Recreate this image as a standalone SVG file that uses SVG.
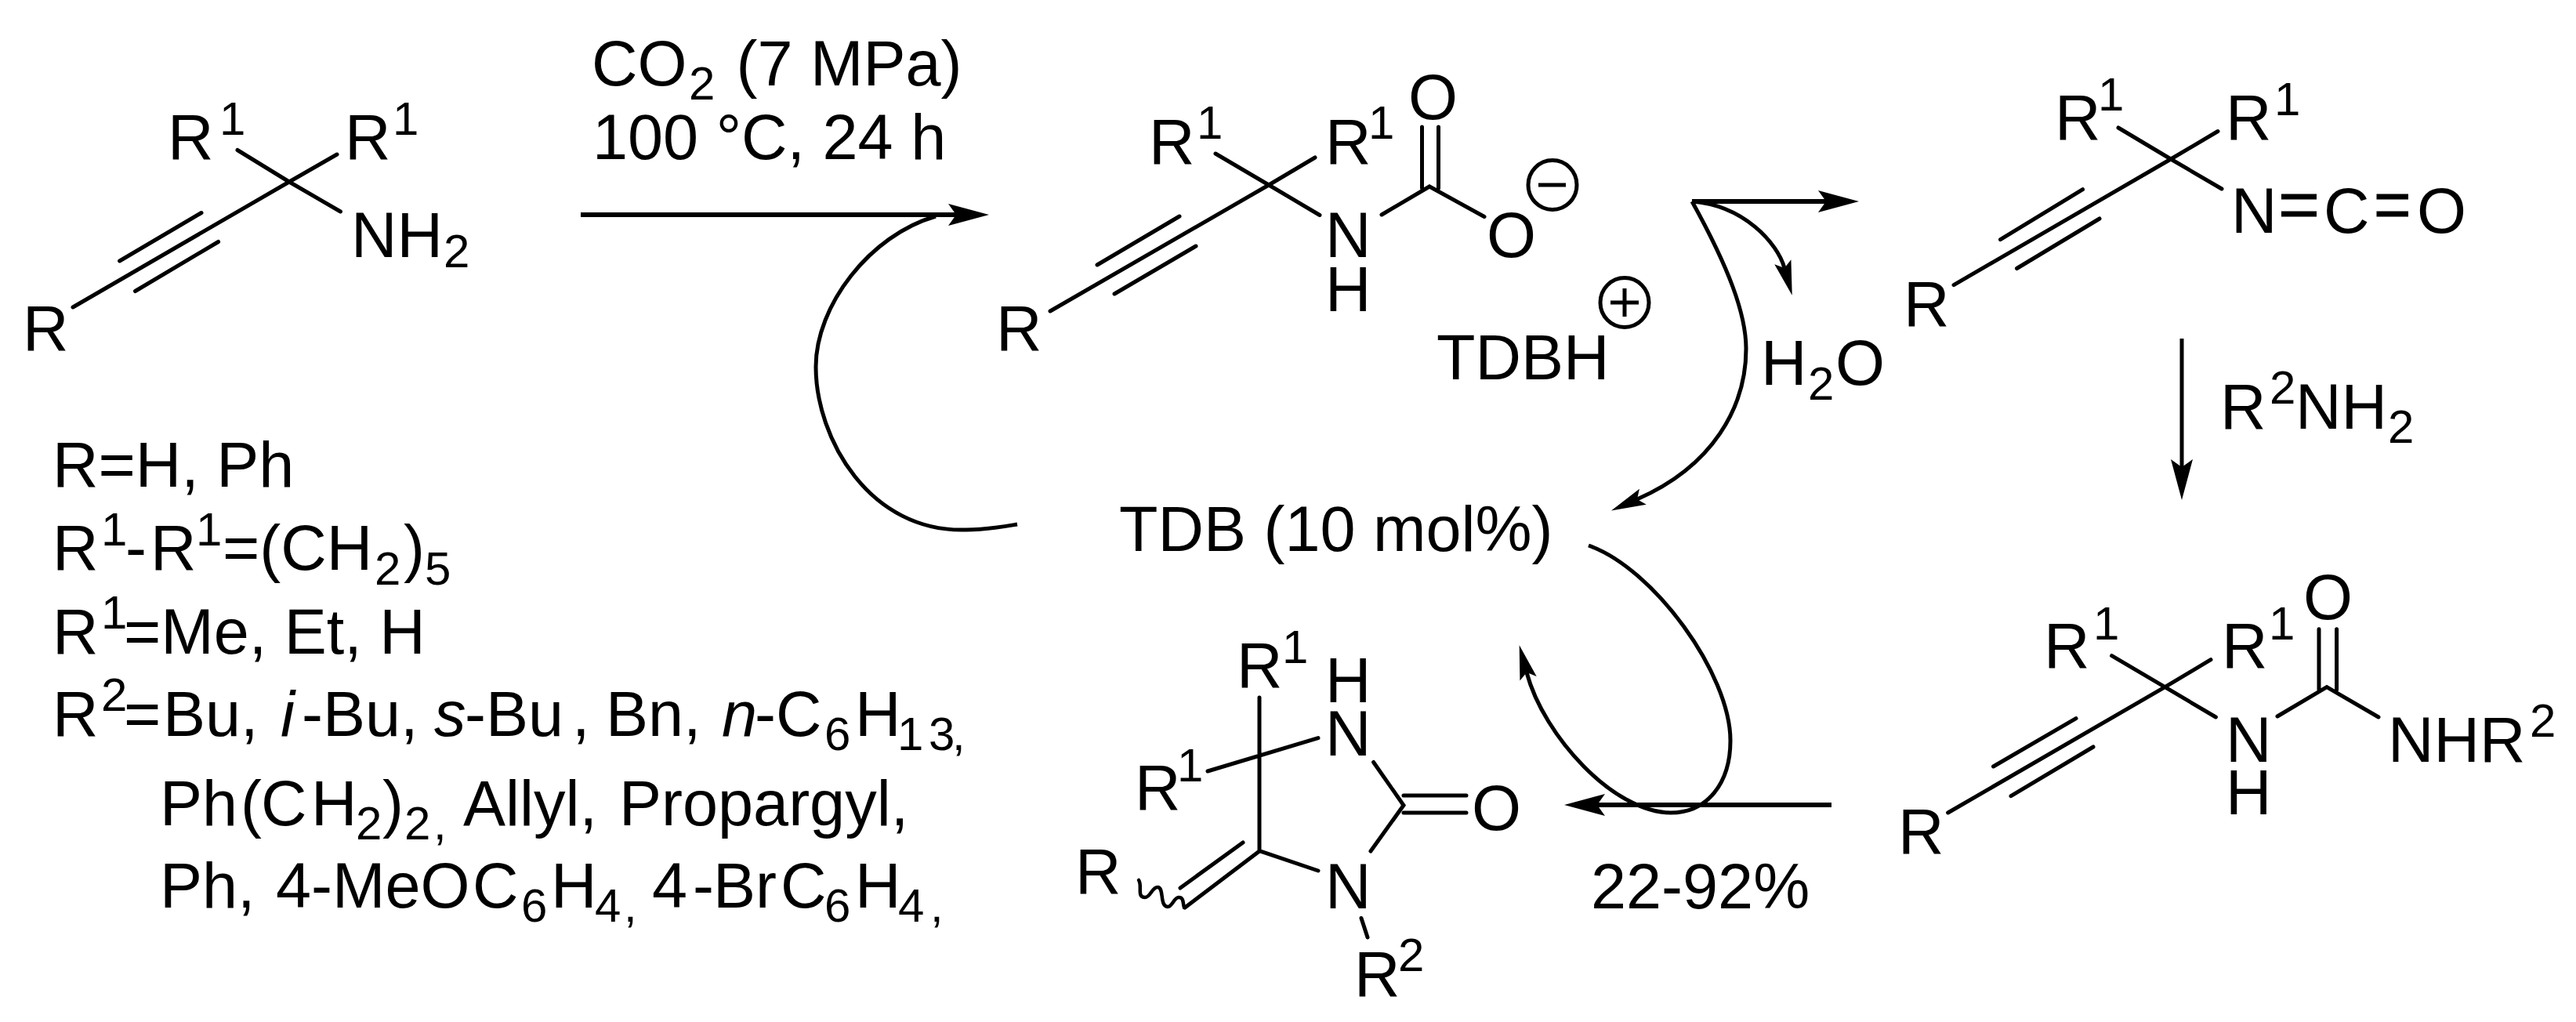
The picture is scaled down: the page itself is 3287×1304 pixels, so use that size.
<svg xmlns="http://www.w3.org/2000/svg" width="3287" height="1304" viewBox="0 0 3287 1304">
<style>
text{font-family:"Liberation Sans",Arial,sans-serif;font-size:81px;fill:#000}
.s{font-size:60px}
.i{font-style:italic}
.b{stroke:#000;stroke-width:5;stroke-linecap:round;fill:none}
.c{stroke:#000;stroke-width:5;fill:none}
.a{stroke:#000;stroke-width:6;fill:none}
</style>
<defs>
<marker id="big" markerUnits="userSpaceOnUse" markerWidth="60" markerHeight="32" refX="10" refY="16" orient="auto"><path d="M0,2 L52,16 L0,30 L10,16 Z" fill="#000"/></marker>
<marker id="small" markerUnits="userSpaceOnUse" markerWidth="50" markerHeight="26" refX="8" refY="13" orient="auto"><path d="M0,2 L44,13 L0,24 L8,13 Z" fill="#000"/></marker>
</defs>
<rect width="3287" height="1304" fill="#fff"/>

<g id="connectors">
<path class="a" d="M741,274H1220" marker-end="url(#big)"/>
<path class="c" d="M1194,276C1110,300 1041,390 1041,468C1041,560 1110,680 1233,676C1258,676 1280,672 1298,669"/>
<path class="a" d="M2159,257H2330" marker-end="url(#big)"/>
<path class="c" d="M2159,257C2225,262 2268,310 2277,342" marker-end="url(#small)"/>
<path class="c" d="M2159,257C2205,340 2228,400 2228,445C2228,520 2185,595 2089,637" marker-end="url(#small)"/>
<path class="a" d="M2784,432V596" style="stroke-width:5" marker-end="url(#big)"/>
<path class="a" d="M2337,1027H2038" marker-end="url(#big)"/>
<path class="c" d="M2027,696C2110,725 2208,860 2208,945C2208,1000 2178,1037 2132,1037C2060,1037 1970,940 1948,858" marker-end="url(#small)"/>
</g>

<g id="conditions">
<text x="755" y="109">CO<tspan class="s" x="879" y="126.500">2</tspan><tspan x="917" y="109"> (7 MPa)</tspan></text>
<text x="756" y="203">100 °C, 24 h</text>
<text x="1428" y="703">TDB (10 mol%)</text>
<text x="2030" y="1159">22-92%</text>
<text x="2247" y="490.500">H<tspan class="s" x="2307" y="510">2</tspan><tspan x="2342" y="490.500">O</tspan></text>
<text x="2833" y="546.500">R<tspan class="s" x="2896" y="515">2</tspan><tspan x="2929" y="546.500">NH</tspan><tspan class="s" x="3047" y="565">2</tspan></text>
</g>

<g id="amine">
<path class="b" d="M369,232L303,191.500M369,232L430,197M369,232L434.500,270M369,232L93,392M257,271.500L152.600,333M278.600,308.500L172.500,371.500"/>
<text x="214" y="203">R<tspan class="s" x="280" y="172">1</tspan></text>
<text x="440" y="203">R<tspan class="s" x="501" y="172">1</tspan></text>
<text x="448" y="327.500">NH<tspan class="s" x="566" y="341">2</tspan></text>
<text x="29" y="446.500">R</text>
</g>

<g id="carbamate">
<path class="b" d="M1619,236L1551,196M1619,236L1678,201M1619,236L1684,274.500M1619,236L1340,397M1505,276L1400,338M1526,314L1422,375M1763,274L1824,238L1894,276.500M1814.500,162V240M1835.500,162V240"/>
<text x="1466" y="208.500">R<tspan class="s" x="1527" y="177">1</tspan></text>
<text x="1691" y="208.500">R<tspan class="s" x="1746" y="177">1</tspan></text>
<text x="1797" y="152">O</text>
<text x="1691" y="327.500">N</text>
<text x="1691" y="397">H</text>
<text x="1897" y="327.500">O</text>
<text x="1271" y="446.500">R</text>
<ellipse class="c" cx="1981" cy="236" rx="31" ry="31.500"/>
<path class="c" d="M1963,236H1998"/>
</g>

<g id="tdbh">
<text x="1833" y="484">TDBH</text>
<ellipse class="c" cx="2073" cy="386" rx="31" ry="31.500"/>
<path class="c" d="M2055,386H2091M2073,368V404"/>
</g>

<g id="isocyanate">
<path class="b" d="M2770,203L2703,163M2770,203L2830,167.500M2770,203L2835,241M2770,203L2493,363.600M2657.600,241.700L2552.500,305.600M2679,279L2573.500,342.500"/>
<text x="2622" y="177.500">R<tspan class="s" x="2677" y="141">1</tspan></text>
<text x="2840" y="177.500">R<tspan class="s" x="2902" y="147">1</tspan></text>
<text x="2847" y="296.500">N</text>
<path d="M2911,251H2956M2911,273H2956M3032.500,251H3073M3032.500,273H3073" stroke="#000" stroke-width="7"/>
<text x="2965" y="296.500">C</text>
<text x="3084" y="296.500">O</text>
<text x="2429" y="416">R</text>
</g>

<g id="urea">
<path class="b" d="M2762.500,876.700L2694.600,836.700M2762.500,876.700L2821,841.700M2762.500,876.700L2827.400,915M2762.500,876.700L2485.600,1037M2649,916.700L2543.500,978M2671,953L2566,1015.700M2906,914L2969,876.700L3035,915M2959,802.700V880M2981.600,802.700V880"/>
<text x="2608" y="852">R<tspan class="s" x="2671" y="815.700">1</tspan></text>
<text x="2835" y="852">R<tspan class="s" x="2895" y="815.700">1</tspan></text>
<text x="2939" y="790">O</text>
<text x="2840" y="971.700">N</text>
<text x="2840" y="1039">H</text>
<text x="3047" y="971.700">NHR<tspan class="s" x="3228" y="940">2</tspan></text>
<text x="2422" y="1089">R</text>
</g>

<g id="imidazolidinone">
<path class="b" d="M1607,890V1085.600M1541,984L1682,941.600M1752.600,972.500L1791,1027.500L1749,1086M1791,1015H1871M1791,1037H1871M1607,1085.600L1682,1111M1607,1086L1512,1158M1586,1075L1506,1133M1737,1171.500L1745,1196"/>
<path d="M1453,1123C1458,1130 1450,1145 1461,1145C1468,1145 1470,1132 1477,1132C1486,1132 1479,1156 1490,1157C1496,1157 1498,1145 1504,1145C1511,1145 1509,1152 1511,1158" fill="none" stroke="#000" stroke-width="4.500" stroke-linecap="round"/>
<text x="1578" y="877">R<tspan class="s" x="1636" y="846">1</tspan></text>
<text x="1691" y="896">H</text>
<text x="1691" y="964">N</text>
<text x="1448" y="1033">R<tspan class="s" x="1502" y="997">1</tspan></text>
<text x="1878" y="1059">O</text>
<text x="1372" y="1140">R</text>
<text x="1691" y="1159">N</text>
<text x="1728" y="1271">R<tspan class="s" x="1784" y="1239">2</tspan></text>
</g>

<g id="substituents">
<text x="67" y="621">R=H, Ph</text>
<text x="67" y="727">R<tspan class="s" x="129" y="696">1</tspan><tspan x="160" y="727">-</tspan><tspan x="192" y="727">R</tspan><tspan class="s" x="250" y="696">1</tspan><tspan x="284" y="727">=(CH</tspan><tspan class="s" x="478" y="745.500">2</tspan><tspan x="515" y="727">)</tspan><tspan class="s" x="542" y="745.500">5</tspan></text>
<text x="67" y="833.500">R<tspan class="s" x="129" y="802">1</tspan><tspan x="158" y="833.500">=Me, Et, H</tspan></text>
<text x="67" y="939">R<tspan class="s" x="129" y="907">2</tspan><tspan x="158" y="939">=</tspan><tspan x="208" y="939">Bu,</tspan><tspan class="i" x="358" y="939">i</tspan><tspan x="385" y="939">-Bu,</tspan><tspan class="i" x="554" y="939">s</tspan><tspan x="593" y="939">-Bu</tspan><tspan x="730" y="939">,</tspan><tspan x="773" y="939">Bn,</tspan><tspan class="i" x="921" y="939">n</tspan><tspan x="963" y="939">-C</tspan><tspan class="s" x="1052" y="957">6</tspan><tspan x="1091" y="939">H</tspan><tspan class="s" x="1145" y="957">1</tspan><tspan class="s" x="1185" y="957">3</tspan><tspan class="s" x="1215" y="957">,</tspan></text>
<text x="204" y="1052.500">Ph<tspan x="307" y="1052.500">(</tspan><tspan x="333" y="1052.500">C</tspan><tspan x="397" y="1052.500">H</tspan><tspan class="s" x="454" y="1070.500">2</tspan><tspan x="488" y="1052.500">)</tspan><tspan class="s" x="516" y="1070.500">2</tspan><tspan class="s" x="553" y="1070.500">,</tspan><tspan x="591" y="1052.500">Allyl,</tspan><tspan x="790" y="1052.500">Propargyl,</tspan></text>
<text x="204" y="1158">Ph,<tspan x="352" y="1158">4-MeO</tspan><tspan x="603" y="1158">C</tspan><tspan class="s" x="665" y="1176">6</tspan><tspan x="703" y="1158">H</tspan><tspan class="s" x="759" y="1176">4</tspan><tspan class="s" x="796" y="1176">,</tspan><tspan x="832" y="1158">4</tspan><tspan x="884" y="1158">-</tspan><tspan x="910" y="1158">Br</tspan><tspan x="996" y="1158">C</tspan><tspan class="s" x="1052" y="1176">6</tspan><tspan x="1091" y="1158">H</tspan><tspan class="s" x="1146" y="1176">4</tspan><tspan class="s" x="1187" y="1176">,</tspan></text>
</g>
</svg>
